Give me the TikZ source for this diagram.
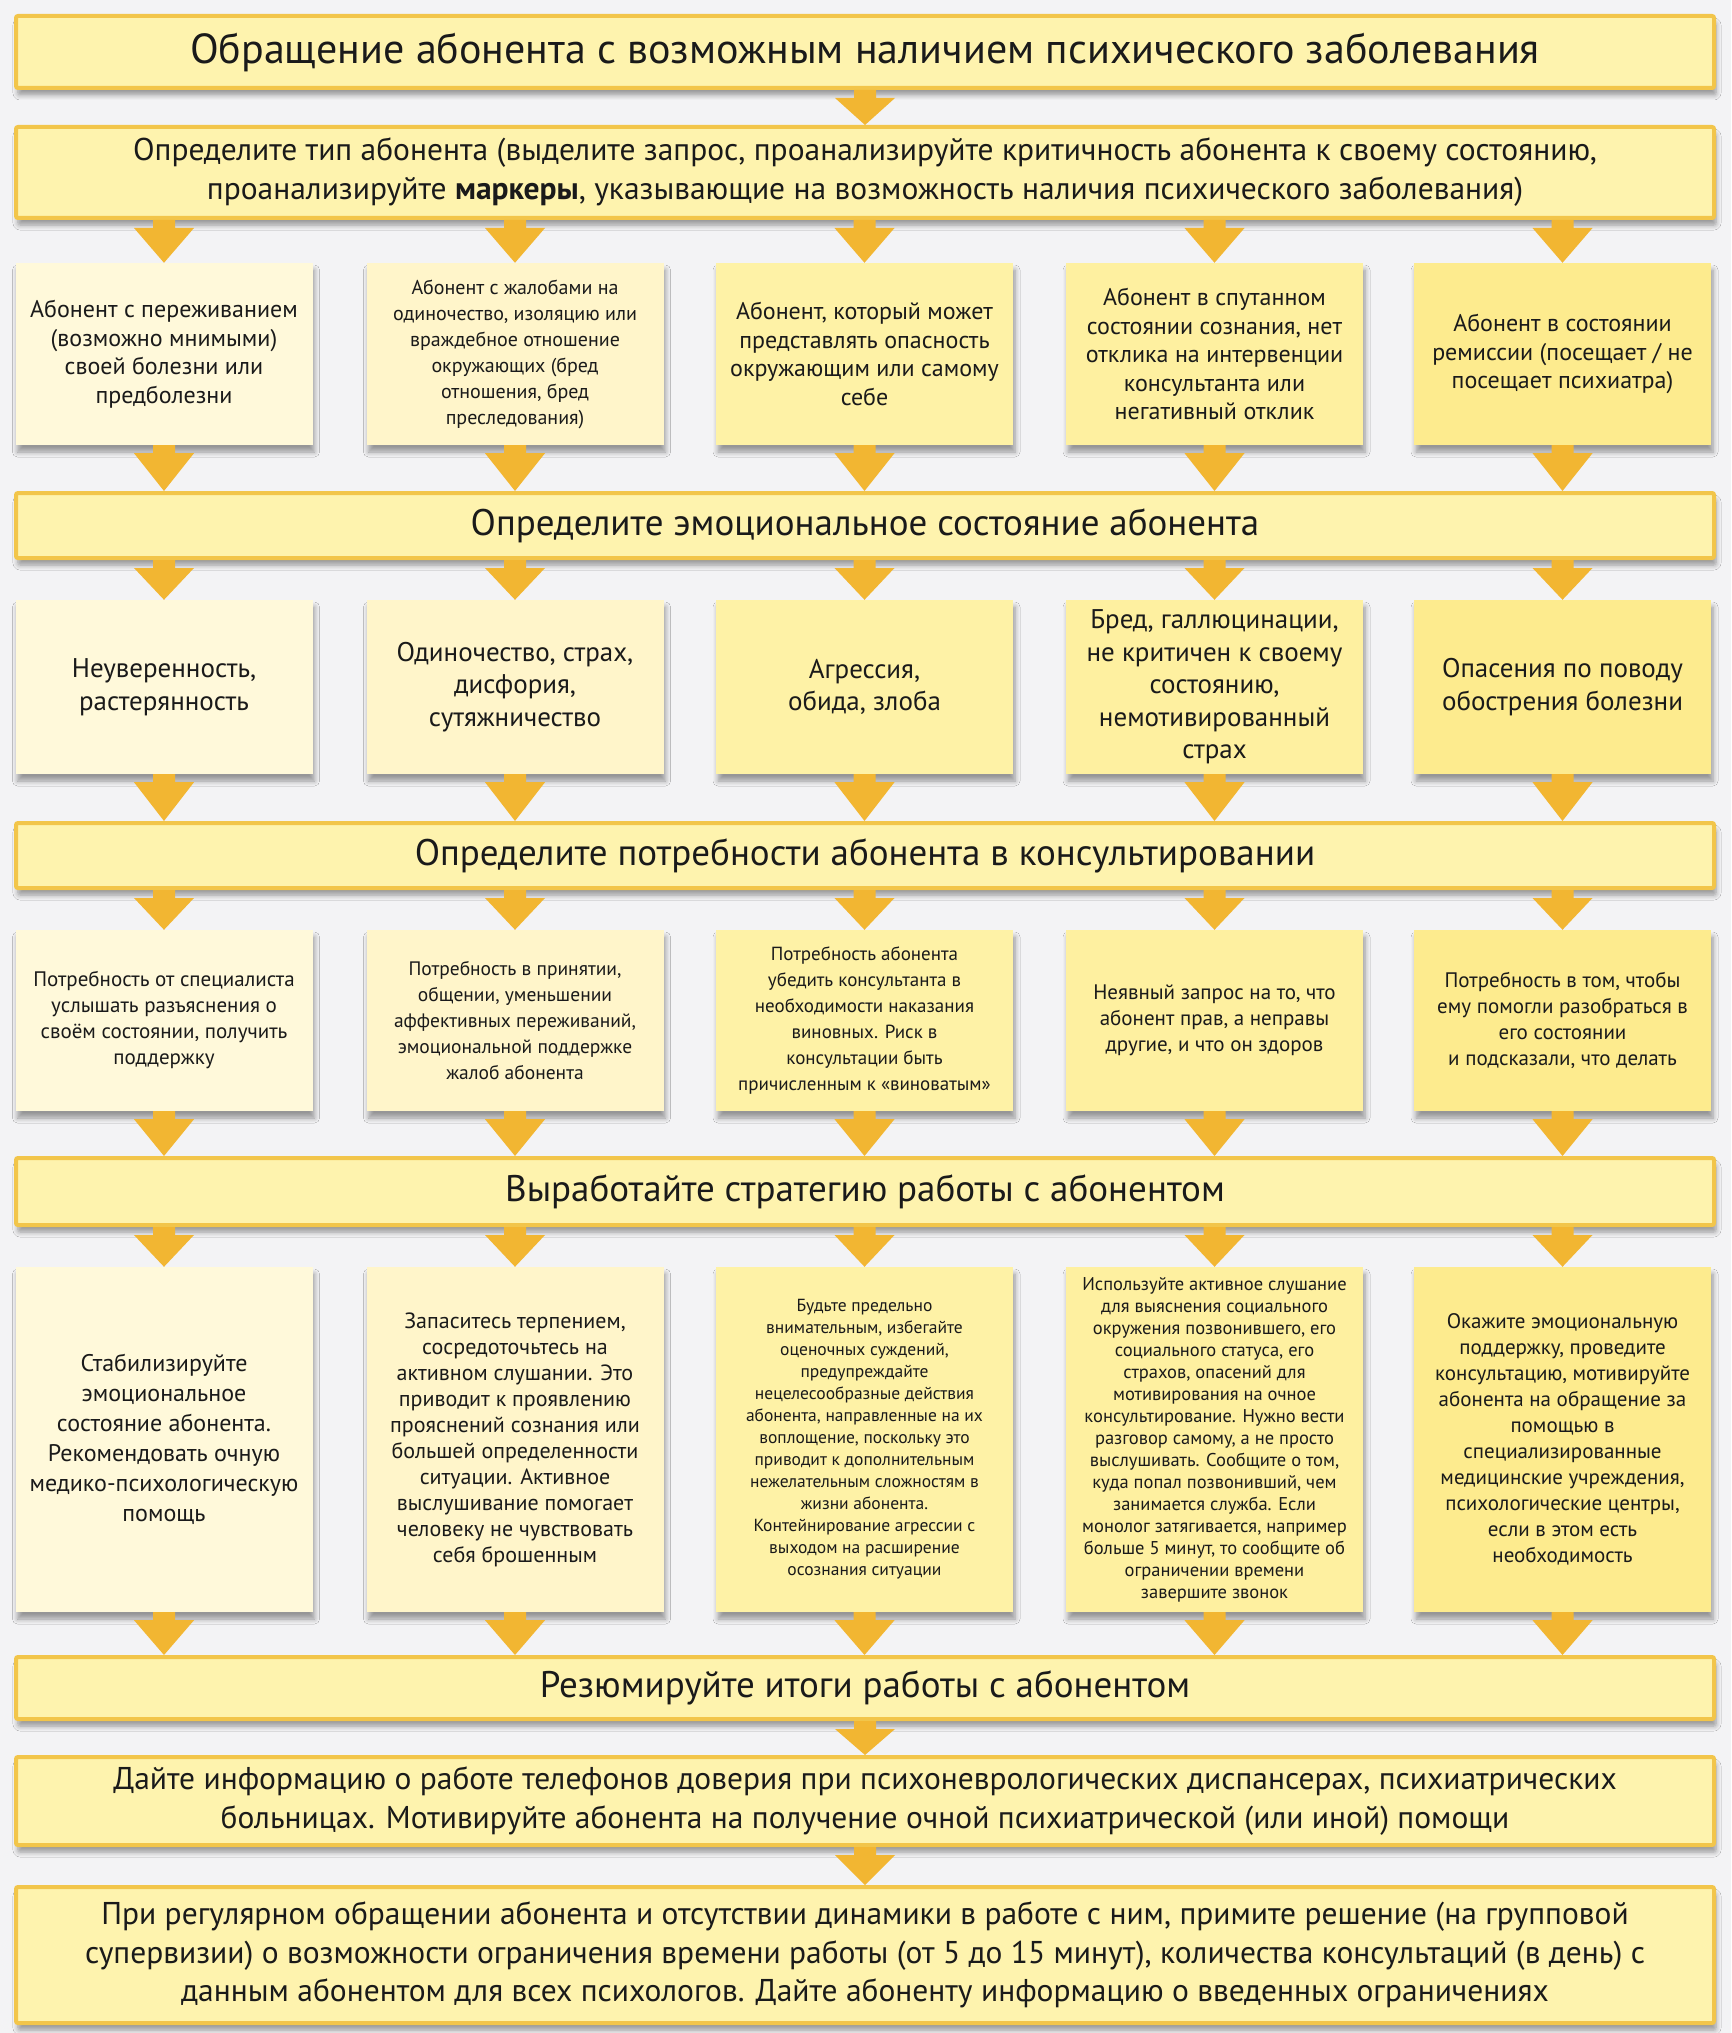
\documentclass[tikz,border=0pt]{standalone}
\usepackage{fontspec}
\setmainfont{PT Sans}
\usetikzlibrary{shadows.blur,calc}
\definecolor{bgc}{HTML}{F3F3F5}
\definecolor{barfill}{HTML}{FEF3AE}
\definecolor{barline}{HTML}{F2C54A}
\definecolor{arrc}{HTML}{F2B632}
\definecolor{cA}{HTML}{FFF9DA}
\definecolor{cB}{HTML}{FFF5CA}
\definecolor{cC}{HTML}{FEF2A6}
\definecolor{cD}{HTML}{FEF0A0}
\definecolor{cE}{HTML}{FDEB8E}
\definecolor{txc}{HTML}{1A1A1A}
\tikzset{
  shd/.style={blur shadow={shadow xshift=2pt, shadow yshift=-7pt, shadow opacity=38, shadow blur steps=6, shadow blur radius=5pt}},
  bar/.style={draw=barline, line width=4pt, fill=barfill, rounded corners=2pt, minimum width=1698pt, align=center, inner sep=0pt, text=txc, shd},
  card/.style={minimum width=297pt, align=center, inner sep=0pt, text=txc, shd},
}
\newcommand{\chev}[3]{%
  \fill[arrc] let \p1=(#3.center), \p2=(#1.south), \p3=(#2.north) in
    (\x1-11pt,\y2) -- (\x1+11pt,\y2) -- (\x1+11pt,\y2-8pt) -- (\x1+30pt,\y2-8pt)
    -- (\x1,\y3) -- (\x1-30pt,\y2-8pt) -- (\x1-11pt,\y2-8pt) -- cycle;}
\begin{document}
\begin{tikzpicture}[x=1pt,y=-1pt]
\fill[bgc] (0,0) rectangle (1731,2033);
\useasboundingbox (0,0) rectangle (1731,2033);

% bars
\node[bar, minimum height=72pt, font=\fontsize{42}{48}\selectfont] (t1) at (865,52)
  {Обращение абонента с возможным наличием психического заболевания};
\node[bar, minimum height=91pt, font=\fontsize{31.5}{39}\selectfont] (t2) at (865,172.5)
  {Определите тип абонента (выделите запрос, проанализируйте критичность абонента к своему состоянию,\\
   проанализируйте \textbf{маркеры}, указывающие на возможность наличия психического заболевания)};
\node[bar, minimum height=65pt, font=\fontsize{37}{42}\selectfont] (t3) at (865,525.5)
  {Определите эмоциональное состояние абонента};
\node[bar, minimum height=65pt, font=\fontsize{37}{42}\selectfont] (t4) at (865,855.5)
  {Определите потребности абонента в консультировании};
\node[bar, minimum height=67pt, font=\fontsize{37}{42}\selectfont] (t5) at (865,1191.5)
  {Выработайте стратегию работы с абонентом};
\node[bar, minimum height=62pt, font=\fontsize{37}{42}\selectfont] (t6) at (865,1688)
  {Резюмируйте итоги работы с абонентом};
\node[bar, minimum height=88pt, font=\fontsize{31.5}{39}\selectfont] (t7) at (865,1801)
  {Дайте информацию о работе телефонов доверия при психоневрологических диспансерах, психиатрических\\
   больницах. Мотивируйте абонента на получение очной психиатрической (или иной) помощи};
\node[bar, minimum height=136pt, font=\fontsize{31.5}{38.5}\selectfont] (t8) at (865,1955)
  {При регулярном обращении абонента и отсутствии динамики в работе с ним, примите решение (на групповой\\
   супервизии) о возможности ограничения времени работы (от 5 до 15 минут), количества консультаций (в день) с\\
   данным абонентом для всех психологов. Дайте абоненту информацию о введенных ограничениях};

% row 1
\node[card, fill=cA, minimum height=182pt, font=\fontsize{24}{28.5}\selectfont] (a1) at (164,354)
  {Абонент с переживанием\\(возможно мнимыми)\\своей болезни или\\предболезни};
\node[card, fill=cB, minimum height=182pt, font=\fontsize{20}{26}\selectfont] (a2) at (515,354)
  {Абонент с жалобами на\\одиночество, изоляцию или\\враждебное отношение\\окружающих (бред\\отношения, бред\\преследования)};
\node[card, fill=cC, minimum height=182pt, font=\fontsize{24}{28.5}\selectfont] (a3) at (864.5,354)
  {Абонент, который может\\представлять опасность\\окружающим или самому\\себе};
\node[card, fill=cD, minimum height=182pt, font=\fontsize{24}{28.5}\selectfont] (a4) at (1214.5,354)
  {Абонент в спутанном\\состоянии сознания, нет\\отклика на интервенции\\консультанта или\\негативный отклик};
\node[card, fill=cE, minimum height=182pt, font=\fontsize{24}{28.5}\selectfont] (a5) at (1562.5,354)
  {Абонент в состоянии\\ремиссии (посещает / не\\посещает психиатра)};

% row 2
\node[card, fill=cA, minimum height=174pt, font=\fontsize{27}{32.5}\selectfont] (b1) at (164,687)
  {Неуверенность,\\растерянность};
\node[card, fill=cB, minimum height=174pt, font=\fontsize{27}{32.5}\selectfont] (b2) at (515,687)
  {Одиночество, страх,\\дисфория,\\сутяжничество};
\node[card, fill=cC, minimum height=174pt, font=\fontsize{27}{32.5}\selectfont] (b3) at (864.5,687)
  {Агрессия,\\обида, злоба};
\node[card, fill=cD, minimum height=174pt, font=\fontsize{27}{32.5}\selectfont] (b4) at (1214.5,687)
  {Бред, галлюцинации,\\не критичен к своему\\состоянию,\\немотивированный\\страх};
\node[card, fill=cE, minimum height=174pt, font=\fontsize{27}{32.5}\selectfont] (b5) at (1562.5,687)
  {Опасения по поводу\\обострения болезни};

% row 3
\node[card, fill=cA, minimum height=181pt, font=\fontsize{21}{26}\selectfont] (c1) at (164,1020.5)
  {Потребность от специалиста\\услышать разъяснения о\\своём состоянии, получить\\поддержку};
\node[card, fill=cB, minimum height=181pt, font=\fontsize{19.5}{26}\selectfont] (c2) at (515,1020.5)
  {Потребность в принятии,\\общении, уменьшении\\аффективных переживаний,\\эмоциональной поддержке\\жалоб абонента};
\node[card, fill=cC, minimum height=181pt, font=\fontsize{19}{26}\selectfont] (c3) at (864.5,1020.5)
  {Потребность абонента\\убедить консультанта в\\необходимости наказания\\виновных. Риск в\\консультации быть\\причисленным к «виноватым»};
\node[card, fill=cD, minimum height=181pt, font=\fontsize{21}{26}\selectfont] (c4) at (1214.5,1020.5)
  {Неявный запрос на то, что\\абонент прав, а неправы\\другие, и что он здоров};
\node[card, fill=cE, minimum height=181pt, font=\fontsize{21}{26}\selectfont] (c5) at (1562.5,1020.5)
  {Потребность в том, чтобы\\ему помогли разобраться в\\его состоянии\\и подсказали, что делать};

% row 4
\node[card, fill=cA, minimum height=345pt, font=\fontsize{24}{30}\selectfont] (d1) at (164,1439.5)
  {Стабилизируйте\\эмоциональное\\состояние абонента.\\Рекомендовать очную\\медико-психологическую\\помощь};
\node[card, fill=cB, minimum height=345pt, font=\fontsize{22}{26}\selectfont] (d2) at (515,1439.5)
  {Запаситесь терпением,\\сосредоточьтесь на\\активном слушании. Это\\приводит к проявлению\\прояснений сознания или\\большей определенности\\ситуации. Активное\\выслушивание помогает\\человеку не чувствовать\\себя брошенным};
\node[card, fill=cC, minimum height=345pt, font=\fontsize{17.5}{22}\selectfont] (d3) at (864.5,1439.5)
  {Будьте предельно\\внимательным, избегайте\\оценочных суждений,\\предупреждайте\\нецелесообразные действия\\абонента, направленные на их\\воплощение, поскольку это\\приводит к дополнительным\\нежелательным сложностям в\\жизни абонента.\\Контейнирование агрессии с\\выходом на расширение\\осознания ситуации};
\node[card, fill=cD, minimum height=345pt, font=\fontsize{18.5}{22}\selectfont] (d4) at (1214.5,1439.5)
  {Используйте активное слушание\\для выяснения социального\\окружения позвонившего, его\\социального статуса, его\\страхов, опасений для\\мотивирования на очное\\консультирование. Нужно вести\\разговор самому, а не просто\\выслушивать. Сообщите о том,\\куда попал позвонивший, чем\\занимается служба. Если\\монолог затягивается, например\\больше 5 минут, то сообщите об\\ограничении времени\\завершите звонок};
\node[card, fill=cE, minimum height=345pt, font=\fontsize{21}{26}\selectfont] (d5) at (1562.5,1439.5)
  {Окажите эмоциональную\\поддержку, проведите\\консультацию, мотивируйте\\абонента на обращение за\\помощью в\\специализированные\\медицинские учреждения,\\психологические центры,\\если в этом есть\\необходимость};

% connectors
\chev{t1}{t2}{t1}
\foreach \i in {1,...,5} {
  \chev{t2}{a\i}{a\i}
  \chev{a\i}{t3}{a\i}
  \chev{t3}{b\i}{b\i}
  \chev{b\i}{t4}{b\i}
  \chev{t4}{c\i}{c\i}
  \chev{c\i}{t5}{c\i}
  \chev{t5}{d\i}{d\i}
  \chev{d\i}{t6}{d\i}
}
\chev{t6}{t7}{t6}
\chev{t7}{t8}{t7}
\end{tikzpicture}
\end{document}
